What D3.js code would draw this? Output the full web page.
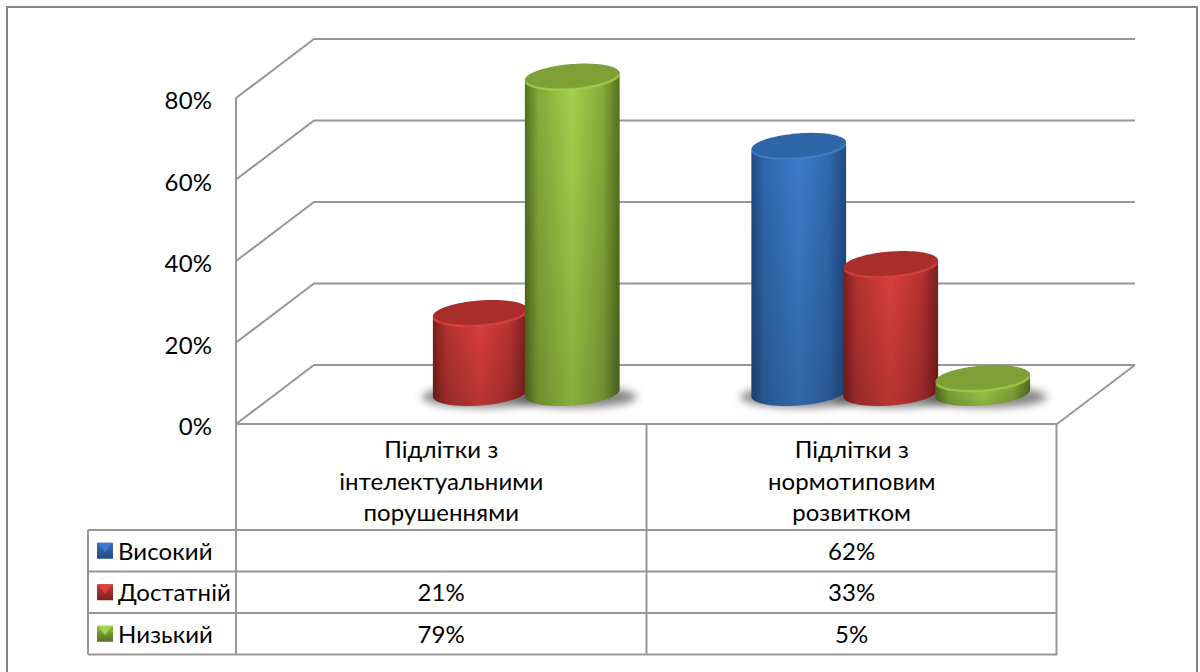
<!DOCTYPE html>
<html><head><meta charset="utf-8">
<script src="https://cdn.jsdelivr.net/npm/d3@7/dist/d3.min.js"></script>
<style>html,body{margin:0;padding:0;background:#fff}svg{display:block}</style>
</head><body><div id="c"></div>
<script>
const categories = [["Підлітки з","інтелектуальними","порушеннями"],["Підлітки з","нормотиповим","розвитком"]];
const seriesNames = ["Високий","Достатній","Низький"];
const valuesHigh = [null,62];
const valuesMid = [21,33];
const valuesLow = [79,5];
const tickValues = [0,20,40,60,80];
const baseColors = ["#3c7ccb","#dc403c","#a6d14c"];
const edgeColors = ["#1f4a80","#7a1f1e","#54701f"];
const topColors = ["#2f66a8","#a92e2b","#7fa036"];
const FONT = "Lato, 'Open Sans', sans-serif";
const W=1200,H=672,grid="#979797";
const svg=d3.select("#c").append("svg").attr("width",W).attr("height",H);
const defs=svg.append("defs");
const mix=(a,b,t)=>d3.interpolateRgb(a,b)(t);
baseColors.forEach((c,i)=>{
  const g=defs.append("linearGradient").attr("id","side"+i);
  [[0,edgeColors[i]],[.14,mix(edgeColors[i],c,.6)],[.5,c],[.82,mix(edgeColors[i],c,.62)],[1,edgeColors[i]]]
    .forEach(s=>g.append("stop").attr("offset",s[0]).attr("stop-color",s[1]));
  const k=defs.append("linearGradient").attr("id","key"+i).attr("x1",0).attr("x2",0).attr("y1",0).attr("y2",1);
  [[0,mix(edgeColors[i],c,.8)],[1,edgeColors[i]]].forEach(s=>k.append("stop").attr("offset",s[0]).attr("stop-color",s[1]));
});
const fade=defs.append("linearGradient").attr("id","fade").attr("x1",0).attr("x2",0).attr("y1",0).attr("y2",1);
fade.append("stop").attr("offset",0).attr("stop-color","#000").attr("stop-opacity",0);
fade.append("stop").attr("offset",1).attr("stop-color","#000").attr("stop-opacity",.17);
defs.append("filter").attr("id","blur").attr("x","-30%").attr("width","160%").attr("y","-60%").attr("height","220%")
  .append("feGaussianBlur").attr("stdDeviation",4);
defs.append("filter").attr("id","soft").append("feGaussianBlur").attr("stdDeviation",.7);

// frame: open at the bottom, it runs past the picture edge
svg.append("rect").attr("x",7).attr("y",7).attr("width",1190).attr("height",680).attr("fill","#fff").attr("stroke","#868686").attr("stroke-width",2);

const y=d3.scaleLinear().domain([0,80]).range([424,98]);
const depthX=78, depthY=-59;
const x0=d3.scaleBand().domain([0,1]).range([236,1057]);
const inner=d3.scaleOrdinal().domain([0,1,2]).range([-92,0,92]);
const ln=d3.line();

// walls & gridlines
const gridG=svg.append("g").attr("fill","none").attr("stroke",grid).attr("stroke-width",2);
tickValues.forEach(t=>{
  gridG.append("path").attr("d",ln([[236,y(t)],[236+depthX,y(t)+depthY],[1057+depthX,y(t)+depthY]]));
});
gridG.append("path").attr("d",ln([[1057,424],[1057+depthX,424+depthY]]));
gridG.append("path").attr("d",ln([[236,y(80)],[236,424]]));

const txt=(x,yy,s,anchor)=>svg.append("text").attr("x",x).attr("y",yy).attr("text-anchor",anchor||"middle")
    .attr("font-family",FONT).attr("font-size",24).attr("letter-spacing",.1).attr("fill","#000").text(s);
tickValues.forEach(t=>txt(212,y(t)+11,t+"%","end"));

// data table
const rowY=[530,571.5,613,654.5];
const T=svg.append("g").attr("fill","none").attr("stroke",grid).attr("stroke-width",2);
T.append("path").attr("d",ln([[236,424],[1057,424]]));
[236,x0(1),1056.5].forEach(x=>T.append("path").attr("d",ln([[x,424],[x,655]])));
rowY.forEach(r=>T.append("path").attr("d",ln([[88,r],[1057,r]])));
T.append("path").attr("d",ln([[88,530],[88,654.5]]));

categories.forEach((lines,c)=>lines.forEach((l,i)=>txt(x0(c)+x0.bandwidth()/2,458+i*31.5,l)));
const allValues=[valuesHigh,valuesMid,valuesLow];
seriesNames.forEach((n,s)=>{
  const cy=(rowY[s]+rowY[s+1])/2;
  const k=16, kx=97, ky=cy-8;
  svg.append("rect").attr("x",kx).attr("y",ky).attr("width",k).attr("height",k).attr("fill",`url(#key${s})`);
  svg.append("path").attr("fill",baseColors[s]).attr("d",ln([[kx+1,ky],[kx+k-1,ky],[kx+k/2,ky+k*.6]])+"Z");
  txt(118,cy+9,n,"start");
  allValues[s].forEach((v,c)=>{ if(v!=null) txt(x0(c)+x0.bandwidth()/2,cy+9,v+"%"); });
});

// cylinders
const rx=47.5, ry=12.5, th=-4.5*Math.PI/180, baseC=393, lift=25.5;
const pt=(cx,cy,t)=>[cx+rx*Math.cos(t)*Math.cos(th)-ry*Math.sin(t)*Math.sin(th), cy+rx*Math.cos(t)*Math.sin(th)+ry*Math.sin(t)*Math.cos(th)];
const t0=Math.atan2(-ry*Math.sin(th),rx*Math.cos(th));   // right-most point of the tilted ellipse
const halfLower=(cx,cy)=>d3.range(0,61).map(i=>pt(cx,cy,t0+Math.PI*i/60)); // right -> left through the front
const bars=[];
seriesNames.forEach((n,s)=>allValues[s].forEach((v,c)=>{ if(v!=null) bars.push({s,c,v,cx:x0(c)+x0.bandwidth()/2+depthX/2+inner(s)}); }));
const B=svg.append("g");
bars.forEach(b=>{
  B.append("ellipse").attr("cx",b.cx+3).attr("cy",baseC+4).attr("rx",rx+14).attr("ry",ry-2)
    .attr("fill","#555").attr("opacity",.72).attr("filter","url(#blur)");
});
bars.forEach(b=>{
  const top=y(b.v)-lift, g=B.append("g");
  const lo=halfLower(b.cx,baseC), up=halfLower(b.cx,top);
  const body=ln(lo.concat(up.slice().reverse()))+"Z";
  g.append("path").attr("fill",`url(#side${b.s})`).attr("d",body);
  g.append("path").attr("fill","url(#fade)").attr("d",body);
  g.append("path").attr("fill",topColors[b.s]).attr("d",ln(d3.range(0,121).map(i=>pt(b.cx,top,i*Math.PI/60)))+"Z");
  g.append("path").attr("fill","none").attr("stroke",baseColors[b.s]).attr("stroke-width",2.5).attr("opacity",.7).attr("filter","url(#soft)").attr("d",ln(up.slice(4,57)));
});
</script></body></html>
